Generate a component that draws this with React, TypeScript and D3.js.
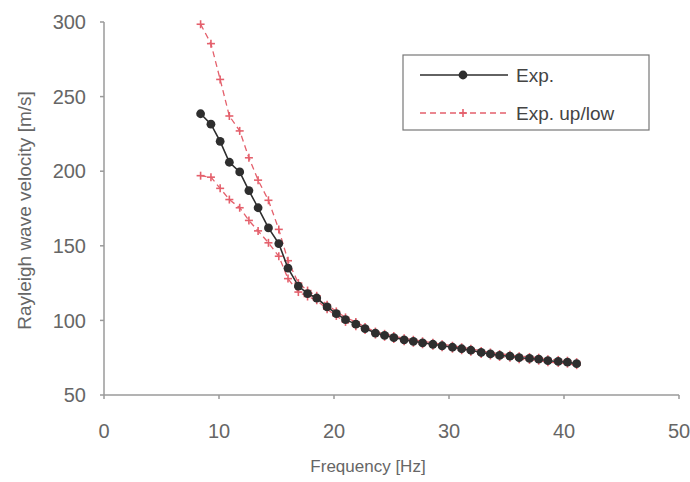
import React from "react";
import * as d3 from "d3";

const freq = [8.4, 9.3, 10.1, 10.9, 11.8, 12.6, 13.4, 14.3, 15.2, 16.0, 16.9, 17.7, 18.5, 19.4, 20.2, 21.0, 21.9, 22.7, 23.6, 24.4, 25.2, 26.1, 26.9, 27.7, 28.6, 29.4, 30.3, 31.1, 31.9, 32.8, 33.6, 34.4, 35.3, 36.1, 37.0, 37.8, 38.6, 39.5, 40.3, 41.1];
const expV = [238.5, 231.5, 220, 206, 199.5, 187, 175.5, 162, 151.5, 135, 123, 118, 115, 109, 104.5, 100.5, 97.5, 94.5, 91.5, 90, 88.5, 87, 86, 85, 84, 83, 82, 81, 80, 78.5, 77.5, 76.5, 76, 75, 74.5, 74, 73, 72.5, 72, 71];
const upV = [298.5, 285.5, 261.5, 237, 227, 209, 194, 180.5, 161, 140, 125, 120, 116.5, 110.5, 106, 102, 99, 95.5, 92.5, 91, 89.5, 88, 87, 86, 85, 84, 83, 82, 81, 79.5, 78.5, 77.5, 77, 76, 75.5, 75, 74, 73.5, 73, 72];
const lowV = [197, 196, 188.5, 181, 175.5, 167, 160, 152, 143, 128, 119, 116, 113.5, 107.5, 103, 99, 96, 93.5, 90.5, 89, 87.5, 86, 85, 84, 83, 82, 81, 80, 79, 77.5, 76.5, 75.5, 75, 74, 73.5, 73, 72, 71.5, 71, 70];
const xTicks = [0, 10, 20, 30, 40, 50];
const yTicks = [50, 100, 150, 200, 250, 300];
const xTitle = "Frequency [Hz]";
const yTitle = "Rayleigh wave velocity [m/s]";
const legendLabels = ["Exp.", "Exp. up/low"];

const W = 690, H = 482;
const FONT = "'Liberation Sans', Arial, sans-serif";

export default function App() {
  const x = d3.scaleLinear().domain([0, 50]).range([104, 679]);
  const y = d3.scaleLinear().domain([50, 300]).range([395, 22]);
  const line = d3.line<number>().x((_, i) => x(freq[i])).y((d) => y(d));
  const black = "#2e2e2e";
  const red = "#e4606c";
  const axisC = "#9a9a9a";
  const textC = "#666";
  const plus = (cx: number, cy: number, k: string) => (
    <g key={k} stroke={red} strokeWidth={1.6}>
      <line x1={cx - 4} x2={cx + 4} y1={cy} y2={cy} />
      <line x1={cx} x2={cx} y1={cy - 4} y2={cy + 4} />
    </g>
  );
  return (
    <svg width={W} height={H} style={{ position: "absolute", left: 0, top: 0, background: "#fff" }} fontFamily={FONT}>
      <rect width={W} height={H} fill="#fff" />
      {/* axes */}
      <line x1={x(0)} x2={x(0)} y1={y(300)} y2={y(50)} stroke={axisC} strokeWidth={1.5} />
      <line x1={x(0)} x2={x(50)} y1={y(50)} y2={y(50)} stroke={axisC} strokeWidth={1.5} />
      {yTicks.map((t) => (
        <g key={"y" + t}>
          <line x1={x(0) - 4} x2={x(0)} y1={y(t)} y2={y(t)} stroke={axisC} strokeWidth={1.5} />
          <text x={86} y={y(t)} dy="0.36em" textAnchor="end" fontSize={20} fill={textC}>{t}</text>
        </g>
      ))}
      {xTicks.map((t) => (
        <g key={"x" + t}>
          <line x1={x(t)} x2={x(t)} y1={y(50)} y2={y(50) + 4} stroke={axisC} strokeWidth={1.5} />
          <text x={x(t)} y={438} textAnchor="middle" fontSize={20} fill={textC}>{t}</text>
        </g>
      ))}
      <text x={368} y={472} textAnchor="middle" fontSize={17} fill={textC}>{xTitle}</text>
      <text transform={`translate(31,${(y(300) + y(50)) / 2 + 2}) rotate(-90)`} textAnchor="middle" fontSize={19} fill={textC}>{yTitle}</text>
      {/* red dashed series */}
      <path d={line(upV) || ""} fill="none" stroke={red} strokeWidth={1.3} strokeDasharray="6,4" />
      <path d={line(lowV) || ""} fill="none" stroke={red} strokeWidth={1.3} strokeDasharray="6,4" />
      {upV.map((v, i) => plus(x(freq[i]), y(v), "u" + i))}
      {lowV.map((v, i) => plus(x(freq[i]), y(v), "l" + i))}
      {/* black series */}
      <path d={line(expV) || ""} fill="none" stroke={black} strokeWidth={1.6} />
      {expV.map((v, i) => (
        <circle key={"e" + i} cx={x(freq[i])} cy={y(v)} r={4.4} fill={black} />
      ))}
      {/* legend */}
      <rect x={403} y={55} width={246} height={75} fill="#fff" stroke="#777" strokeWidth={1.2} />
      <line x1={420} x2={508} y1={75} y2={75} stroke={black} strokeWidth={1.6} />
      <circle cx={463} cy={75} r={4.4} fill={black} />
      <text x={516} y={75} dy="0.36em" fontSize={19} fill="#444">{legendLabels[0]}</text>
      <line x1={420} x2={508} y1={113} y2={113} stroke={red} strokeWidth={1.3} strokeDasharray="6,4" />
      {plus(463, 113, "lg")}
      <text x={516} y={113} dy="0.36em" fontSize={19} fill="#444">{legendLabels[1]}</text>
    </svg>
  );
}
